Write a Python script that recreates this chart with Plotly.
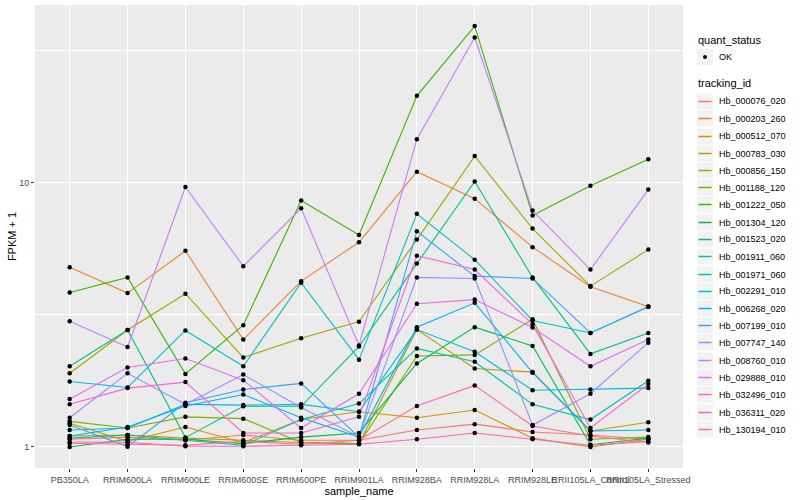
import plotly.graph_objects as go

samples = ["PB350LA", "RRIM600LA", "RRIM600LE", "RRIM600SE", "RRIM600PE", "RRIM901LA",
           "RRIM928BA", "RRIM928LA", "RRIM928LE", "RRII105LA_Control", "RRII105LA_Stressed"]

tracking_ids = ["Hb_000076_020", "Hb_000203_260", "Hb_000512_070", "Hb_000783_030",
                "Hb_000856_150", "Hb_001188_120", "Hb_001222_050", "Hb_001304_120",
                "Hb_001523_020", "Hb_001911_060", "Hb_001971_060", "Hb_002291_010",
                "Hb_006268_020", "Hb_007199_010", "Hb_007747_140", "Hb_008760_010",
                "Hb_029888_010", "Hb_032496_010", "Hb_036311_020", "Hb_130194_010"]

colors = ["#F8766D", "#EA8331", "#D89000", "#C09B00", "#A3A500", "#7CAE00", "#39B600",
          "#00BB4E", "#00BF7D", "#00C1A3", "#00BFC4", "#00BAE0", "#00B0F6", "#35A2FF",
          "#9590FF", "#C77CFF", "#E76BF3", "#FA62DB", "#FF62BC", "#FF6C91"]

# FPKM + 1 values per tracking_id, in sample order
hb_000076_020 = [1.07, 1.09, 1.06, 1.11, 1.06, 1.06, 1.16, 1.22, 1.14, 1.11, 1.07]
hb_000203_260 = [4.79, 3.82, 5.52, 2.55, 4.24, 5.95, 11.0, 8.70, 5.70, 4.04, 3.40]
hb_000512_070 = [1.23, 1.05, 1.19, 1.04, 1.27, 1.36, 1.29, 1.38, 1.08, 1.00, 1.07]
hb_000783_030 = [1.10, 1.11, 1.08, 1.06, 1.04, 1.03, 2.78, 1.98, 1.92, 1.15, 1.24]
hb_000856_150 = [1.90, 2.77, 3.80, 2.18, 2.58, 2.98, 6.09, 12.6, 6.70, 4.06, 5.58]
hb_001188_120 = [1.25, 1.18, 1.30, 1.28, 1.04, 1.03, 2.21, 2.23, 3.04, 1.07, 1.09]
hb_001222_050 = [3.84, 4.38, 1.89, 2.89, 8.55, 6.34, 21.3, 39.1, 7.51, 9.74, 12.25]
hb_001304_120 = [1.00, 1.07, 1.07, 1.03, 1.09, 1.13, 2.07, 2.84, 2.41, 1.02, 1.08]
hb_001523_020 = [2.02, 2.77, 1.085, 1.425, 1.425, 2.40, 4.94, 10.1, 4.38, 2.25, 2.70]
hb_001911_060 = [1.08, 1.11, 1.06, 1.015, 1.27, 1.46, 2.36, 2.10, 1.45, 1.27, 1.78]
hb_001971_060 = [1.77, 1.68, 2.76, 2.02, 4.18, 2.14, 7.62, 5.11, 3.01, 2.70, 3.39]
hb_002291_010 = [1.16, 1.18, 1.45, 1.44, 1.45, 1.36, 2.78, 2.29, 1.64, 1.65, 1.67]
hb_006268_020 = [1.10, 1.19, 1.43, 1.58, 1.29, 1.09, 2.84, 3.51, 1.91, 1.15, 1.16]
hb_007199_010 = [1.21, 1.003, 1.47, 1.65, 1.74, 1.09, 6.55, 4.43, 4.34, 2.70, 3.39]
hb_007747_140 = [1.29, 1.90, 1.45, 1.88, 1.41, 1.09, 4.38, 4.34, 1.21, 1.59, 2.48]
hb_008760_010 = [2.99, 2.39, 9.63, 4.83, 8.00, 2.42, 14.6, 35.4, 7.84, 4.69, 9.41]
hb_029888_010 = [1.52, 2.00, 2.16, 1.79, 1.18, 1.59, 3.48, 3.61, 2.83, 2.02, 2.55]
hb_032496_010 = [1.45, 1.67, 1.76, 1.13, 1.13, 1.30, 5.29, 4.69, 2.91, 1.18, 1.73]
hb_036311_020 = [1.044, 1.042, 1.006, 1.006, 1.015, 1.024, 1.07, 1.13, 1.07, 1.015, 1.05]
hb_130194_010 = [1.033, 1.024, 1.015, 1.05, 1.024, 1.06, 1.43, 1.71, 1.20, 1.10, 1.04]

series = [hb_000076_020, hb_000203_260, hb_000512_070, hb_000783_030, hb_000856_150,
          hb_001188_120, hb_001222_050, hb_001304_120, hb_001523_020, hb_001911_060,
          hb_001971_060, hb_002291_010, hb_006268_020, hb_007199_010, hb_007747_140,
          hb_008760_010, hb_029888_010, hb_032496_010, hb_036311_020, hb_130194_010]

FONT = "Liberation Sans, Arial, sans-serif"

# plot panel geometry (pixels) used for the hand-built legend
W, H = 800, 500
ML, MR, MT, MB = 35, 117, 5, 32
PW, PH = W - ML - MR, H - MT - MB


def px(x):
    return (x - ML) / PW


def py(y):
    return (H - MB - y) / PH


fig = go.Figure()
for name, vals, col in zip(tracking_ids, series, colors):
    fig.add_trace(go.Scatter(x=samples, y=vals, mode="lines", name=name,
                             line=dict(color=col, width=1.1), showlegend=False))

all_x = [s for vals in series for s in samples]
all_y = [v for vals in series for v in vals]
fig.add_trace(go.Scatter(x=all_x, y=all_y, mode="markers", name="OK",
                         marker=dict(color="black", size=4.5, symbol="circle"),
                         showlegend=False))

# ---- legend drawn ggplot-style ----
shapes, annotations = [], []
LX = 696          # legend left
KEY_L, KEY_R = 697, 713
TXT_X = 717


def key_box(cy):
    shapes.append(dict(type="rect", xref="paper", yref="paper",
                       x0=px(KEY_L), x1=px(KEY_R), y0=py(cy + 8), y1=py(cy - 8),
                       fillcolor="#F2F2F2", line=dict(width=0), layer="below"))


def label(text, x, y, size, color="black"):
    annotations.append(dict(text=text, xref="paper", yref="paper", x=px(x), y=py(y),
                            xanchor="left", yanchor="middle", showarrow=False,
                            font=dict(size=size, color=color, family=FONT)))


label("quant_status", LX, 40, 11)
key_box(57)
shapes.append(dict(type="circle", xref="paper", yref="paper",
                   x0=px(703), x1=px(707), y0=py(59), y1=py(55),
                   fillcolor="black", line=dict(width=0)))
label("OK", TXT_X, 57, 9)

label("tracking_id", LX, 83, 11)
STEP = 17.25
for i, (name, col) in enumerate(zip(tracking_ids, colors)):
    cy = round(101 + STEP * i) + 0.5
    key_box(cy)
    shapes.append(dict(type="line", xref="paper", yref="paper",
                       x0=px(KEY_L + 1.5), x1=px(KEY_R - 1.5), y0=py(cy), y1=py(cy),
                       line=dict(color=col, width=1.5)))
    label(name, TXT_X, cy, 9)

fig.update_layout(
    width=W, height=H,
    paper_bgcolor="white", plot_bgcolor="#EBEBEB",
    margin=dict(l=ML, r=MR, t=MT, b=MB, autoexpand=False),
    font=dict(family=FONT, size=9, color="#4D4D4D"),
    showlegend=False,
    shapes=shapes, annotations=annotations,
    xaxis=dict(
        type="category", categoryorder="array", categoryarray=samples,
        range=[-0.6, 10.6], showgrid=True, gridcolor="white", gridwidth=1.1,
        ticks="outside", ticklen=3, tickcolor="#333333", tickwidth=1,
        tickfont=dict(size=9, color="#4D4D4D"), tickangle=0,
        title=dict(text="sample_name", font=dict(size=11, color="black"), standoff=0),
        zeroline=False, showline=False, automargin=False,
    ),
    yaxis=dict(
        type="log", range=[-0.0795, 1.672],
        tickvals=[1, 10], ticktext=["1", "10"],
        showgrid=True, gridcolor="white", gridwidth=1.1,
        minor=dict(tickvals=[10 ** 0.5, 10 ** 1.5], showgrid=True, gridcolor="white",
                   gridwidth=0.5, ticks=""),
        ticks="outside", ticklen=3, tickcolor="#333333", tickwidth=1,
        tickfont=dict(size=9, color="#4D4D4D"),
        title=dict(text="FPKM + 1", font=dict(size=11, color="black"), standoff=0),
        zeroline=False, showline=False, automargin=False,
    ),
)

fig.write_html("out.html", config={"displayModeBar": False},
               post_script="document.body.style.margin='0px';")
